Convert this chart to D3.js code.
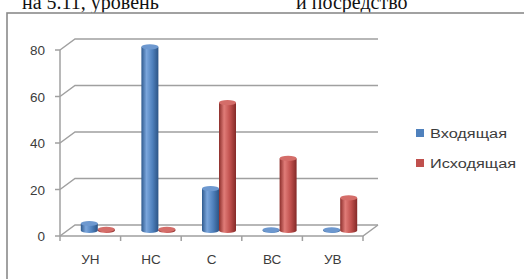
<!DOCTYPE html>
<html><head><meta charset="utf-8">
<script src="https://cdn.jsdelivr.net/npm/d3@7"></script>
<style>html,body{margin:0;padding:0;background:#fff;overflow:hidden}</style>
</head><body>
<script>
const categories = ["УН", "НС", "С", "ВС", "УВ"];
const seriesNames = ["Входящая", "Исходящая"];
const incoming = [3, 79, 18, 0.3, 0.3];
const outgoing = [0.5, 0.5, 55, 31, 14];
const yTicks = [0, 20, 40, 60, 80];
const colors = ["#4F81BD", "#C0504D"];

const W = 524, H = 279;
const svg = d3.select("body").append("svg").attr("width", W).attr("height", H);
const defs = svg.append("defs");

// page text above chart (cut off at the top, as in the reference)
svg.append("text").attr("x", 22).attr("y", 9).attr("font-family", "Liberation Serif, serif")
  .attr("font-size", 20).attr("fill", "#111").text("на 5.11, уровень");
svg.append("text").attr("x", 296).attr("y", 9).attr("font-family", "Liberation Serif, serif")
  .attr("font-size", 20).attr("fill", "#111").text("и посредство");

// chart frame
svg.append("rect").attr("x", 7).attr("y", 13).attr("width", 530).attr("height", 280)
  .attr("fill", "#fff").attr("stroke", "#8a8a8a").attr("stroke-width", 1.6);

const y = d3.scaleLinear().domain([0, 80]).range([236, 50]);
const x = d3.scaleBand().domain(categories).range([60, 363]).padding(0);
const inner = d3.scaleBand().domain(seriesNames).range([0, 34]);
const DX = 15, DY = -11;
const grid = "#a0a0a0";

const g = svg.append("g");
yTicks.forEach(v => {
  const yy = y(v);
  g.append("path").attr("d", `M${x.range()[0]},${yy} L${x.range()[0] + DX},${yy + DY} L${x.range()[1] + DX},${yy + DY}`)
    .attr("fill", "none").attr("stroke", grid).attr("stroke-width", 1.5);
});
g.append("path").attr("d", `M${x.range()[0]},${y(0)} L${x.range()[1]},${y(0)} L${x.range()[1] + DX},${y(0) + DY}`)
  .attr("fill", "none").attr("stroke", grid).attr("stroke-width", 1.5);
g.append("line").attr("x1", 60).attr("x2", 60).attr("y1", y(0)).attr("y2", y(80))
  .attr("stroke", grid).attr("stroke-width", 1.5);
yTicks.forEach(v => {
  g.append("line").attr("x1", 55).attr("x2", 60).attr("y1", y(v)).attr("y2", y(v))
    .attr("stroke", grid).attr("stroke-width", 1.5);
  g.append("text").attr("x", 45).attr("y", y(v) + 5).attr("text-anchor", "end")
    .attr("font-family", "Liberation Sans, Arial, sans-serif").attr("font-size", 13.5)
    .attr("fill", "#3c3c3c").text(v);
});
const bounds = categories.map(c => x(c)).concat([x.range()[1]]);
bounds.forEach(b => {
  g.append("line").attr("x1", b).attr("x2", b).attr("y1", y(0)).attr("y2", y(0) + 5)
    .attr("stroke", grid).attr("stroke-width", 1.5);
});
categories.forEach(c => {
  g.append("text").attr("x", x(c) + x.bandwidth() / 2).attr("y", 264).attr("text-anchor", "middle")
    .attr("font-family", "Liberation Sans, Arial, sans-serif").attr("font-size", 13.5)
    .attr("fill", "#3c3c3c").text(c);
});

const shades = [
  ["#2f5a8e", "#7ba6dc", "#4f81bd", "#2c5485"],
  ["#8c2e2b", "#e07c78", "#c0504d", "#842a28"]
];
shades.forEach((s, i) => {
  const lg = defs.append("linearGradient").attr("id", "cyl" + i).attr("x1", 0).attr("x2", 1).attr("y1", 0).attr("y2", 0);
  lg.append("stop").attr("offset", "0%").attr("stop-color", s[0]);
  lg.append("stop").attr("offset", "30%").attr("stop-color", s[1]);
  lg.append("stop").attr("offset", "65%").attr("stop-color", s[2]);
  lg.append("stop").attr("offset", "100%").attr("stop-color", s[3]);
});
const tops = ["#6d98cf", "#d46d69"];

const data = [];
categories.forEach((c, i) => {
  data.push({ cat: c, s: 0, v: incoming[i] });
  data.push({ cat: c, s: 1, v: outgoing[i] });
});
const bw = inner.bandwidth();
const ry = 2.6;
const bars = g.append("g").selectAll("g").data(data).join("g");
bars.each(function (d) {
  const sel = d3.select(this);
  const cx0 = x(d.cat) + x.bandwidth() / 2 - inner.range()[1] / 2 + DX / 2 + inner(seriesNames[d.s]);
  const yb = y(0) + DY / 2;
  const yt = y(d.v) + DY / 2;
  const cx = cx0 + bw / 2;
  sel.append("ellipse").attr("cx", cx).attr("cy", yb).attr("rx", bw / 2).attr("ry", ry)
    .attr("fill", `url(#cyl${d.s})`);
  sel.append("rect").attr("x", cx0).attr("y", yt).attr("width", bw).attr("height", Math.max(0, yb - yt))
    .attr("fill", `url(#cyl${d.s})`);
  sel.append("ellipse").attr("cx", cx).attr("cy", yt).attr("rx", bw / 2).attr("ry", ry)
    .attr("fill", tops[d.s]);
});

const lw = [77, 86];
seriesNames.forEach((n, i) => {
  const ly = 133 + i * 30;
  svg.append("rect").attr("x", 416).attr("y", ly - 4).attr("width", 8).attr("height", 8).attr("fill", colors[i]);
  svg.append("text").attr("x", 430).attr("y", ly + 4.5)
    .attr("font-family", "Liberation Sans, Arial, sans-serif").attr("font-size", 12.5)
    .attr("textLength", lw[i]).attr("lengthAdjust", "spacingAndGlyphs")
    .attr("fill", "#3c3c3c").text(n);
});
</script>
</body></html>
